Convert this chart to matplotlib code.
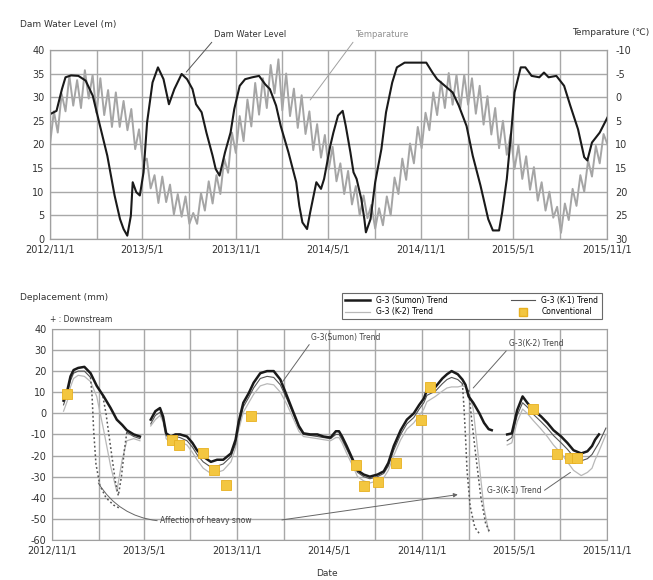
import numpy as np
import pandas as pd
import matplotlib
matplotlib.use("Agg")
import matplotlib.pyplot as plt
import matplotlib.dates as mdates
from matplotlib.lines import Line2D
from matplotlib.ticker import FuncFormatter, MultipleLocator

plt.rcParams["axes.unicode_minus"] = False

START = pd.Timestamp("2012-11-01")
END = pd.Timestamp("2015-11-01")

# --- upper panel: dam water level (m) and air temperature (C), months after 2012/11/1
level_months = [0.0, 0.42, 0.77, 1.0, 1.36, 1.83, 2.3, 2.76, 3.23, 3.7, 4.17, 4.52, 4.75, 4.99,
                5.22, 5.34, 5.57, 5.8, 6.04, 6.27, 6.62, 6.97, 7.33, 7.68, 8.03, 8.5, 8.85, 9.2,
                9.43, 9.79, 10.1, 10.5, 10.7, 10.95, 11.3, 11.66, 11.9, 12.25, 12.6, 13.06, 13.5,
                13.9, 14.2, 14.6, 14.9, 15.4, 15.9, 16.1, 16.3, 16.6, 16.8, 17.2, 17.5, 17.7,
                18.1, 18.3, 18.6, 18.9, 19.1, 19.4, 19.6, 19.8, 20.1, 20.3, 20.4, 20.7, 21.0,
                21.4, 21.7, 22.1, 22.4, 22.9, 23.6, 24.3, 24.7, 25.0, 25.5, 26.0, 26.4, 26.9,
                27.3, 27.8, 28.3, 28.6, 29.0, 29.2, 29.5, 29.8, 30.0, 30.4, 30.7, 31.1, 31.6,
                31.9, 32.2, 32.7, 33.2, 33.6, 34.1, 34.5, 34.7, 35.0, 35.5, 36.0]
level = [26.4, 27.1, 31.7, 34.2, 34.6, 34.5, 33.5, 30.3, 23.9, 17.6, 9.2, 4.2, 2.1, 0.7,
         4.9, 12.0, 9.9, 9.2, 14.1, 24.7, 33.1, 36.3, 33.8, 28.5, 31.7, 34.9, 33.8, 31.7,
         28.5, 26.8, 22.5, 17.6, 14.8, 13.4, 18.3, 22.5, 27.5, 32.4, 33.8, 34.2, 34.5,
         32.7, 31.7, 28.2, 23.9, 18.3, 12.0, 7.0, 3.5, 2.1, 5.6, 12.0, 10.6, 12.7,
         19.7, 22.5, 26.1, 27.1, 23.9, 18.3, 14.1, 12.7, 8.5, 4.2, 1.4, 4.2, 12.0,
         19.0, 26.8, 33.1, 36.3, 37.3, 37.3, 37.3, 35.2, 33.8, 32.4, 31.0, 28.2, 23.9,
         17.6, 11.3, 4.2, 1.8, 1.8, 5.6, 12.7, 23.2, 31.0, 36.3, 36.3, 34.5, 34.2,
         35.2, 34.2, 34.5, 32.4, 28.2, 23.2, 17.3, 16.6, 20.4, 22.5, 25.7]

temp_months = np.arange(0, 36.01, 0.25)
temperature = [10, 3, 7.5, -0.7, 3, -4.5, 1.8, -3.6, 2.3, -5.7, 0.3, -4.7, 3.3, -4, 3.8, -1.5,
               6.3, -1, 6.3, 0.8, 7, 2.5, 11, 6.8, 13.7, 13, 19.3, 16.5, 22.4, 16.8, 22.2, 18.5,
               24.8, 20.5, 25.3, 21, 26.8, 24.5, 26.8, 20.3, 24, 17.8, 22.5, 16.5, 20.5, 13, 16,
               7.5, 11.8, 4, 9.3, 0.5, 6.2, -3, 3.7, -4, 2.3, -6.8, -0.8, -8, 2.8, -5, 4, -1.8,
               6.5, -0.4, 7.8, 3, 11.2, 5.7, 12.8, 8, 15.3, 10.5, 17.8, 14, 20.5, 15.6, 22.7,
               18.8, 25, 20.8, 25.6, 22.8, 27.8, 23.5, 27.1, 21, 25, 17, 20.5, 13, 17.5, 9.8,
               14, 6.3, 10.8, 3.3, 7, -1, 3.8, -3.3, 2.3, -5.1, 1.6, -4.7, 2.3, -4.7, 1.6, -4,
               3.5, -2.4, 5.8, -0.2, 7.9, 2.3, 10.8, 5, 12.2, 7.8, 15.2, 10.2, 17.3, 12.5, 19.6,
               14.8, 21.9, 18, 24, 20, 25.5, 23.2, 28.7, 22.5, 26, 19.4, 23, 16.5, 20, 13.4,
               16.8, 10.3, 14, 7.8, 10]

# --- lower panel: displacement trends (mm), nan = no data
disp_months = [0.75, 1.0, 1.2, 1.4, 1.7, 2.1, 2.5, 2.9, 3.35, 3.8, 4.2, 4.55, 4.85, 5.3, 5.7, 6.0,
               6.4, 6.7, 7.0, 7.2, 7.4, 7.7, 8.0, 8.3, 8.75, 9.1,
               9.4, 9.8, 10.3, 10.7, 11.1, 11.6, 11.9, 12.1, 12.4, 12.75,
               13.07, 13.5, 13.94, 14.37, 14.8, 15.24, 15.67, 16.0, 16.3, 16.75,
               17.2, 17.6, 18.05, 18.4, 18.6, 18.8, 19.1, 19.5, 19.8, 20.2,
               20.6, 21.1, 21.5, 21.8, 22.15, 22.6, 23.0, 23.45, 23.8, 24.1,
               24.3, 24.85, 25.3, 25.6, 25.9, 26.3, 26.6, 26.8, 27.0, 27.3,
               27.7, 28.0, 28.3, 28.5, 29.0,
               29.5, 29.8, 30.15, 30.5, 30.8, 31.2, 31.7, 32.1, 32.5, 33.0,
               33.4, 33.8, 34.3, 34.7, 35.0, 35.2, 35.45, 35.9]
nan = np.nan
sumon = [6, 11, 17.5, 20.5, 21.5, 22, 19, 13, 8, 2.5, -3, -5.5, -8, -10, -11, nan,
         -3, 1, 2.5, -1.5, -9.5, -11, -10, -10, -11, -14,
         -17.5, -20.5, -23, -22, -22, -19, -12.5, -4, 5, 9.5,
         14.5, 19, 20, 20, 16, 8, 0, -6, -9.5, -10,
         -10, -11, -11.5, -8.5, -8.5, -11, -15.5, -22, -27, -29,
         -30, -29, -27.5, -23.5, -15.5, -8, -3, 0, 4, 7,
         11, 12.5, 16.5, 18.5, 20, 18.5, 16, 13.5, 8, 5,
         0, -4.5, -7.5, -8, nan,
         -10, -9.5, 1.5, 8, 5, 1.5, -1.5, -4.5, -8, -11,
         -14, -17.5, -19, -18, -15.5, -12.5, -10, nan]
k1 = [4, 9.5, 15.5, 19, 20, 20, 17, nan, nan, nan, nan, nan, -9, -11, -12, nan,
      -5, -1, 0.5, -3, -10.5, -12, -11, -11.5, -13, -16,
      -19.5, -23, -25.5, -25, -24, -20.5, -14.5, -6, 3, 7.5,
      12, 16.5, 17.5, 17, 13.5, 6.5, -1, -7, -10, -10.5,
      -11, -11.5, -12, -10, -10, -12.5, -17, -23, -28, -30,
      -31, -30, -28.5, -25, -17.5, -10, -5, -2, 2, 5,
      8.5, 10.5, 14, 16, 17, 16, 14, nan, nan, nan,
      nan, nan, nan, nan, nan,
      -13, -11.5, -1, 5, 3, -0.5, -4, -7, -10.5, -14,
      -17, -20.5, -22.5, -21.5, -19.5, -17, -14, -7]
k2 = [1, 6, 12.5, 16.5, 18, 17.5, 15, 8, -8, -25, -37, -22, -13, -12, -13, nan,
      -6, -3, -1, -4, -12, -14, -13, -13.5, -15, -18.5,
      -22, -26, -28.5, -28, -27, -23, -16.5, -8, 0.5, 5,
      9, 13, 14, 13.5, 10, 4, -3, -8.5, -11, -11.5,
      -12, -12.5, -13, -11.5, -11.5, -14, -19, -25, -30, -32,
      -33, -32, -30.5, -27, -20, -12.5, -7.5, -4.5, -1, 2,
      5.5, 8, 10.5, 12, 12.5, 12.5, 13, 12.5, 11, 2,
      -25, -45, -56, nan, nan,
      -15, -14, -4, 2, 0, -3.5, -7.5, -11, -15, -19,
      -23, -27, -29.5, -28, -26, -22, -18, -10]

# heavy snow periods (dotted)
snow1a_months = [2.5, 2.6, 2.7, 2.85, 3.1, 3.5, 4.0, 4.4]
snow1a = [17, 8, -8, -24, -34, -40, -43.5, -45]
snow1b_months = [3.3, 3.5, 3.8, 4.1, 4.3, 4.5, 4.7, 4.85]
snow1b = [8, 0, -16, -32, -39, -30, -17, -9]
snow2a_months = [26.6, 26.7, 26.8, 26.9, 27.1, 27.4, 27.7]
snow2a = [14, 3, -11, -27, -44, -54, -57]
snow2b_months = [27.0, 27.2, 27.5, 27.8, 28.1, 28.35]
snow2b = [11, -3, -22, -40, -52, -56]

conv_months = [1.0, 7.8, 8.2, 9.8, 10.5, 11.3, 12.9, 19.7, 20.2, 21.1, 22.3, 23.9, 24.5,
               31.2, 32.75, 33.6, 34.0]
conventional = [9, -12.5, -15, -19, -27, -34, -1.5, -24.5, -34.5, -32.5, -23.5, -3, 12.5,
                2, -19.5, -21, -21]


def to_dates(months):
  return START + pd.to_timedelta(np.asarray(months, dtype=float) * 30.44, unit="D")


def d(m):
  return START + pd.Timedelta(days=m * 30.44)


def style_axis(ax):
  ax.set_xlim(START, END)
  ax.xaxis.set_major_locator(mdates.MonthLocator(bymonth=[5, 11]))
  ax.xaxis.set_minor_locator(mdates.MonthLocator(bymonth=[2, 8]))
  ax.xaxis.set_major_formatter(FuncFormatter(
    lambda x, pos: "{0}/{1}/{2}".format(mdates.num2date(x).year, mdates.num2date(x).month,
                                         mdates.num2date(x).day)))
  ax.grid(True, which="both", axis="x", color="#a8a8a8", lw=1.0)
  ax.grid(True, which="major", axis="y", color="#a8a8a8", lw=1.0)
  ax.set_axisbelow(True)
  ax.tick_params(which="both", length=0, labelsize=7, pad=4, colors="#333333")
  for s in ax.spines.values():
    s.set_color("#a0a0a0")


fig = plt.figure(figsize=(6.53, 5.80), dpi=100)

# ---------------- upper panel
ax1 = fig.add_axes([0.0766, 0.588, 0.853, 0.326])
ax1t = ax1.twinx()
ax1t.plot(to_dates(temp_months), temperature, color="#a5a5a5", lw=1.4)
ax1t.set_ylim(30, -10)
ax1t.yaxis.set_major_locator(MultipleLocator(5))
ax1t.tick_params(length=0, labelsize=7, pad=6, colors="#333333")
for s in ax1t.spines.values():
  s.set_color("#a0a0a0")

ax1.plot(to_dates(level_months), level, color="#1a1a1a", lw=1.5)
ax1.set_ylim(0, 40)
ax1.yaxis.set_major_locator(MultipleLocator(5))
style_axis(ax1)
ax1.set_zorder(ax1t.get_zorder() + 1)
ax1.patch.set_visible(False)

ax1.annotate("Dam Water Level", xy=(d(8.8), 35.3), xytext=(d(10.6), 42.2), fontsize=6,
             color="#333333", va="bottom", annotation_clip=False,
             arrowprops=dict(arrowstyle="-", color="#555555", lw=0.7, relpos=(0, 0),
                             shrinkA=0, shrinkB=0))
ax1.annotate("Temparature", xy=(d(16.8), 29.4), xytext=(d(19.7), 42.2), fontsize=6,
             color="#909090", va="bottom", annotation_clip=False,
             arrowprops=dict(arrowstyle="-", color="#a0a0a0", lw=0.7, relpos=(0, 0),
                             shrinkA=0, shrinkB=0))

fig.text(0.031, 0.957, "Dam Water Level (m)", fontsize=6.5, color="#333333", va="center")
fig.text(0.995, 0.944, "Temparature (\u2103)", fontsize=6.5, color="#333333", va="center",
         ha="right")

# ---------------- lower panel
ax2 = fig.add_axes([0.0796, 0.069, 0.85, 0.364])
disp_dates = to_dates(disp_months)
ax2.plot(disp_dates, k2, color="#b8b8b8", lw=0.9)
ax2.plot(disp_dates, k1, color="#555555", lw=0.8)
for mm, vv in [(snow1a_months, snow1a), (snow1b_months, snow1b),
               (snow2a_months, snow2a), (snow2b_months, snow2b)]:
  ax2.plot(to_dates(mm), vv, color="#555555", lw=1.1, ls=(0, (1.2, 1.6)))
ax2.plot(disp_dates, sumon, color="#1a1a1a", lw=1.8)
ax2.plot(to_dates(conv_months), conventional, ls="none", marker="s", ms=6.5,
         color="#f3c640", mec="#e8b020", mew=0.6)
ax2.set_ylim(-60, 40)
ax2.yaxis.set_major_locator(MultipleLocator(10))
style_axis(ax2)

arrow = dict(arrowstyle="-", color="#666666", lw=0.7, shrinkA=0, shrinkB=0)
ax2.annotate("G-3(Sumon) Trend", xy=(d(14.9), 14.5), xytext=(d(16.8), 36), fontsize=5.5,
             color="#444444", va="center",
             arrowprops=dict(arrow, relpos=(0, 0)))
ax2.annotate("G-3(K-2) Trend", xy=(d(27.3), 12), xytext=(d(29.6), 33), fontsize=5.5,
             color="#444444", va="center",
             arrowprops=dict(arrow, relpos=(0, 0)))
ax2.annotate("G-3(K-1) Trend", xy=(d(33.6), -28), xytext=(d(28.2), -36.5), fontsize=5.5,
             color="#444444", va="center",
             arrowprops=dict(arrow, relpos=(1, 0.3)))
ax2.annotate("Affection of heavy snow", xy=(d(3.0), -33), xytext=(d(7.0), -51),
             fontsize=5.5, color="#444444", va="center",
             arrowprops=dict(arrow, relpos=(0, 0.5), connectionstyle="arc3,rad=-0.25"))
ax2.annotate("", xy=(d(26.3), -38.5), xytext=(d(14.9), -50.5),
             arrowprops=dict(arrowstyle="-|>", color="#666666", lw=0.7, mutation_scale=6,
                             shrinkA=0, shrinkB=0))

fig.text(0.031, 0.487, "Deplacement (mm)", fontsize=6.5, color="#333333", va="center")
fig.text(0.076, 0.449, "+ : Downstream", fontsize=5.5, color="#333333", va="center")
fig.text(0.5, 0.012, "Date", fontsize=6.5, color="#333333", ha="center", va="center")

handles = [
  Line2D([], [], color="#1a1a1a", lw=1.8),
  Line2D([], [], color="#b8b8b8", lw=0.9),
  Line2D([], [], color="#555555", lw=0.8),
  Line2D([], [], ls="none", marker="s", ms=6, color="#f3c640", mec="#e8b020"),
]
labels = ["G-3 (Sumon) Trend", "G-3 (K-2) Trend", "G-3 (K-1) Trend", "Conventional"]
leg = fig.legend(handles, labels, ncol=2, fontsize=5.5, loc="lower left",
                 bbox_to_anchor=(0.518, 0.443, 0.409, 0.057), mode="expand",
                 frameon=True, fancybox=False, edgecolor="#444444", handlelength=3.2,
                 borderpad=0.4, labelspacing=0.3, columnspacing=1.0)
leg.get_frame().set_linewidth(0.8)

fig.savefig("out.png", dpi=100)
